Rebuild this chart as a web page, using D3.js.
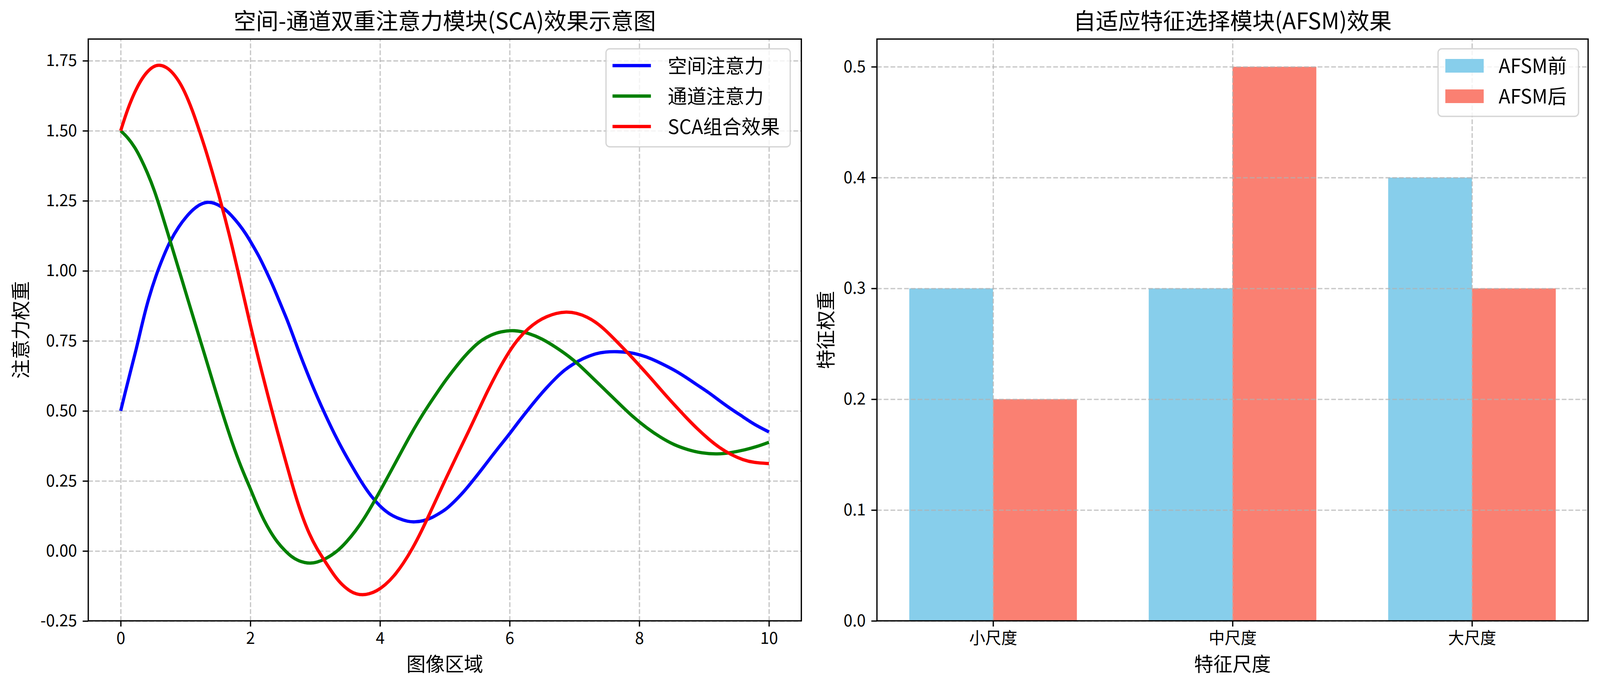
<!DOCTYPE html>
<html>
<head>
<meta charset="utf-8">
<script src="https://cdn.jsdelivr.net/npm/d3@7"></script>
<style>
  html, body { margin: 0; padding: 0; background: #fff; overflow: hidden; }
  #chart { width: 100vw; height: 100vh; }
  svg { display: block; width: 100%; height: 100%; }
  text { font-family: "Noto Sans CJK SC", "Noto Sans", sans-serif; fill: #000; }
</style>
</head>
<body>
<div id="chart"></div>
<script>
// ---- data ----
const spatialAttention = [
  [0, 0.5], [0.07, 0.566], [0.15, 0.64], [0.24, 0.72], [0.3, 0.78], [0.41, 0.887],
  [0.55, 0.988], [0.66, 1.052], [0.76, 1.106], [0.9, 1.16], [1.01, 1.193], [1.12, 1.22],
  [1.22, 1.237], [1.31, 1.245], [1.4, 1.245], [1.5, 1.237], [1.61, 1.22], [1.71, 1.198],
  [1.82, 1.168], [1.93, 1.133], [2.03, 1.094], [2.14, 1.05], [2.24, 1.001], [2.35, 0.947],
  [2.45, 0.89], [2.56, 0.83], [2.63, 0.787], [2.74, 0.717], [2.88, 0.634], [3.02, 0.556],
  [3.16, 0.484], [3.3, 0.416], [3.44, 0.354], [3.58, 0.298], [3.72, 0.243], [3.86, 0.196],
  [4.0, 0.159], [4.14, 0.132], [4.29, 0.115], [4.43, 0.105], [4.53, 0.103], [4.67, 0.107],
  [4.81, 0.119], [4.95, 0.139], [5.02, 0.149], [5.16, 0.179], [5.3, 0.213], [5.44, 0.253],
  [5.58, 0.294], [5.72, 0.337], [5.86, 0.378], [6.0, 0.418], [6.14, 0.462], [6.29, 0.506],
  [6.43, 0.546], [6.57, 0.583], [6.71, 0.617], [6.85, 0.647], [6.99, 0.669], [7.13, 0.687],
  [7.31, 0.704], [7.48, 0.711], [7.66, 0.712], [7.84, 0.709], [8.01, 0.701], [8.19, 0.686],
  [8.36, 0.667], [8.54, 0.646], [8.72, 0.62], [8.89, 0.593], [9.07, 0.566], [9.24, 0.536],
  [9.42, 0.506], [9.6, 0.479], [9.77, 0.452], [10, 0.425],
];

const channelAttention = [
  [0, 1.5], [0.11, 1.476], [0.22, 1.441], [0.31, 1.402], [0.41, 1.352], [0.52, 1.288],
  [0.62, 1.215], [0.73, 1.132], [0.84, 1.048], [0.94, 0.972], [1.05, 0.887], [1.18, 0.788],
  [1.29, 0.705], [1.43, 0.597], [1.57, 0.492], [1.72, 0.385], [1.86, 0.297], [2.0, 0.223],
  [2.1, 0.165], [2.21, 0.109], [2.31, 0.068], [2.42, 0.03], [2.53, 0.002], [2.63, -0.02],
  [2.74, -0.035], [2.84, -0.042], [2.93, -0.044], [3.02, -0.041], [3.16, -0.029], [3.34, -0.002],
  [3.48, 0.031], [3.62, 0.07], [3.76, 0.117], [3.9, 0.172], [4.04, 0.23], [4.18, 0.29],
  [4.32, 0.35], [4.46, 0.41], [4.6, 0.466], [4.74, 0.517], [4.88, 0.565], [5.02, 0.612],
  [5.16, 0.654], [5.3, 0.694], [5.44, 0.728], [5.58, 0.755], [5.72, 0.772], [5.86, 0.783],
  [6.07, 0.789], [6.29, 0.778], [6.5, 0.758], [6.71, 0.728], [6.92, 0.694], [7.06, 0.667],
  [7.27, 0.62], [7.48, 0.573], [7.69, 0.526], [7.9, 0.479], [8.12, 0.438], [8.33, 0.405],
  [8.54, 0.378], [8.75, 0.361], [8.96, 0.349], [9.21, 0.345], [9.42, 0.351], [9.63, 0.361],
  [9.81, 0.372], [10, 0.388],
];

const scaCombined = [
  [0, 1.5], [0.11, 1.58], [0.22, 1.64], [0.31, 1.68], [0.41, 1.712], [0.51, 1.731],
  [0.6, 1.736], [0.71, 1.727], [0.81, 1.706], [0.92, 1.67], [1.01, 1.628], [1.11, 1.571],
  [1.21, 1.503], [1.31, 1.433], [1.41, 1.355], [1.51, 1.275], [1.61, 1.188], [1.71, 1.097],
  [1.8, 1.008], [1.9, 0.907], [2.0, 0.806], [2.1, 0.71], [2.19, 0.628], [2.31, 0.52],
  [2.42, 0.425], [2.53, 0.333], [2.63, 0.25], [2.72, 0.18], [2.81, 0.118], [2.91, 0.06],
  [3.02, 0.01], [3.16, -0.04], [3.3, -0.09], [3.41, -0.12], [3.55, -0.146], [3.64, -0.154],
  [3.73, -0.157], [3.83, -0.154], [3.95, -0.143], [4.08, -0.122], [4.22, -0.089], [4.36, -0.045],
  [4.5, 0.008], [4.64, 0.07], [4.78, 0.14], [4.92, 0.21], [5.02, 0.26], [5.19, 0.343],
  [5.37, 0.428], [5.51, 0.497], [5.65, 0.567], [5.83, 0.648], [6.0, 0.715], [6.14, 0.76],
  [6.29, 0.795], [6.43, 0.82], [6.57, 0.837], [6.72, 0.849], [6.87, 0.854], [7.03, 0.85],
  [7.2, 0.835], [7.34, 0.815], [7.48, 0.788], [7.66, 0.746], [7.84, 0.703], [8.01, 0.66],
  [8.19, 0.614], [8.36, 0.568], [8.54, 0.522], [8.72, 0.477], [8.89, 0.437], [9.07, 0.399],
  [9.24, 0.368], [9.42, 0.343], [9.6, 0.325], [9.77, 0.315], [10, 0.312],
];

const lineSeries = [
  { name: '空间注意力', color: 'blue', points: spatialAttention },
  { name: '通道注意力', color: 'green', points: channelAttention },
  { name: 'SCA组合效果', color: 'red', points: scaCombined },
];

const lineXTicks = [0, 2, 4, 6, 8, 10];
const lineYTicks = [-0.25, 0, 0.25, 0.5, 0.75, 1.0, 1.25, 1.5, 1.75];

const scaleCategories = ['小尺度', '中尺度', '大尺度'];
const beforeAfsm = [0.3, 0.3, 0.4];
const afterAfsm = [0.2, 0.5, 0.3];
const barYTicks = [0, 0.1, 0.2, 0.3, 0.4, 0.5];
const barSeries = [
  { name: 'AFSM前', color: 'skyblue', values: beforeAfsm, offset: -1 },
  { name: 'AFSM后', color: 'salmon', values: afterAfsm, offset: 0 },
];

// ---- layout (300 dpi: 1pt = 4.1667px) ----
const width = 4169;
const height = 1762;
const PT = 300 / 72;
const tickLen = 3.5 * PT;
const tickPad = 3.5 * PT;
const thin = 0.8 * PT;
const tickFont = 10 * PT;
const labelFont = 12 * PT;
const titleFont = 14 * PT;
const barWidth = 0.35;

const leftArea = { left: 230, right: 2088, top: 100, bottom: 1590 };
const rightArea = { left: 2285, right: 4138, top: 100, bottom: 1590 };

// the reference prints a plain hyphen for negatives
const fixed2 = (d) => d3.format('.2f')(d).replace('−', '-');

// the drawing fills whatever viewport the page gets
const svg = d3
  .select('#chart')
  .append('svg')
  .attr('viewBox', `0 0 ${width} ${height}`)
  .attr('preserveAspectRatio', 'none');

svg.append('rect').attr('width', width).attr('height', height).attr('fill', '#fff');

function drawGrid(g, area, xScale, yScale, xTicks, yTicks) {
  const grid = g.append('g').attr('class', 'grid');
  grid
    .append('g')
    .attr('transform', `translate(0, ${area.bottom})`)
    .call(d3.axisBottom(xScale).tickValues(xTicks).tickFormat('').tickSize(-(area.bottom - area.top)));
  grid
    .append('g')
    .attr('transform', `translate(${area.left}, 0)`)
    .call(d3.axisLeft(yScale).tickValues(yTicks).tickFormat('').tickSize(-(area.right - area.left)));
  grid.selectAll('.domain').remove();
  grid
    .selectAll('line')
    .attr('stroke', '#b0b0b0')
    .attr('stroke-opacity', 0.7)
    .attr('stroke-width', thin)
    .attr('stroke-dasharray', `${3.7 * thin} ${1.6 * thin}`);
}

function drawAxes(g, area, xScale, yScale, xTicks, xFormat, yTicks, yFormat) {
  const xAxis = g
    .append('g')
    .attr('transform', `translate(0, ${area.bottom})`)
    .call(
      d3.axisBottom(xScale).tickValues(xTicks).tickFormat(xFormat)
        .tickSizeInner(tickLen).tickSizeOuter(0).tickPadding(tickPad),
    );
  const yAxis = g
    .append('g')
    .attr('transform', `translate(${area.left}, 0)`)
    .call(
      d3.axisLeft(yScale).tickValues(yTicks).tickFormat(yFormat)
        .tickSizeInner(tickLen).tickSizeOuter(0).tickPadding(tickPad),
    );

  for (const axis of [xAxis, yAxis]) {
    axis.select('.domain').remove();
    axis.selectAll('line').attr('stroke', '#000').attr('stroke-width', thin);
    axis
      .selectAll('text')
      .attr('font-size', tickFont)
      .attr('font-family', '"Noto Sans CJK SC", "Noto Sans", sans-serif')
      .attr('fill', '#000');
  }

  g.append('rect')
    .attr('x', area.left)
    .attr('y', area.top)
    .attr('width', area.right - area.left)
    .attr('height', area.bottom - area.top)
    .attr('fill', 'none')
    .attr('stroke', '#000')
    .attr('stroke-width', thin);
}

function drawLabels(g, area, title, xLabel, yLabel, yLabelX) {
  const cx = (area.left + area.right) / 2;
  const cy = (area.top + area.bottom) / 2;

  g.append('text')
    .attr('x', cx)
    .attr('y', area.top - 6 * PT)
    .attr('text-anchor', 'middle')
    .attr('font-size', titleFont)
    .text(title);

  g.append('text')
    .attr('x', cx)
    .attr('y', 1719)
    .attr('text-anchor', 'middle')
    .attr('font-size', labelFont)
    .text(xLabel);

  g.append('text')
    .attr('transform', `translate(${yLabelX}, ${cy}) rotate(-90)`)
    .attr('text-anchor', 'middle')
    .attr('font-size', labelFont)
    .text(yLabel);
}

function drawLegendFrame(g, box) {
  g.append('rect')
    .attr('x', box.x)
    .attr('y', box.y)
    .attr('width', box.w)
    .attr('height', box.h)
    .attr('rx', 0.2 * labelFont)
    .attr('fill', '#fff')
    .attr('fill-opacity', 0.8)
    .attr('stroke', '#cccccc')
    .attr('stroke-opacity', 0.8)
    .attr('stroke-width', thin);
}

// ---- left: line chart ----
const left = svg.append('g').attr('class', 'line-chart');

const xLine = d3.scaleLinear().domain([-0.5, 10.5]).range([leftArea.left, leftArea.right]);
const yLine = d3.scaleLinear().domain([-0.2494, 1.8274]).range([leftArea.bottom, leftArea.top]);

drawGrid(left, leftArea, xLine, yLine, lineXTicks, lineYTicks);

// points were read by eye, so a basis curve evens out the reading noise
const line = d3
  .line()
  .x((d) => xLine(d[0]))
  .y((d) => yLine(d[1]))
  .curve(d3.curveBasis);

left
  .append('g')
  .attr('class', 'lines')
  .selectAll('path')
  .data(lineSeries)
  .join('path')
  .attr('d', (d) => line(d.points))
  .attr('fill', 'none')
  .attr('stroke', (d) => d.color)
  .attr('stroke-width', 2 * PT)
  .attr('stroke-linejoin', 'round');

drawAxes(left, leftArea, xLine, yLine, lineXTicks, d3.format('d'), lineYTicks, fixed2);
drawLabels(left, leftArea, '空间-通道双重注意力模块(SCA)效果示意图', '图像区域', '注意力权重', 72);

const leftLegend = left.append('g').attr('class', 'legend');
drawLegendFrame(leftLegend, { x: 1579, y: 125, w: 480, h: 251 });
const leftRows = leftLegend
  .selectAll('g.row')
  .data(lineSeries)
  .join('g')
  .attr('class', 'row')
  .attr('transform', (d, i) => `translate(0, ${168 + i * 78})`);
leftRows
  .append('line')
  .attr('x1', 1596)
  .attr('x2', 1596 + 2 * labelFont)
  .attr('stroke', (d) => d.color)
  .attr('stroke-width', 2 * PT);
leftRows
  .append('text')
  .attr('x', 1740)
  .attr('dy', '0.37em')
  .attr('font-size', labelFont)
  .text((d) => d.name);

// ---- right: grouped bars ----
const right = svg.append('g').attr('class', 'bar-chart');

const xBar = d3.scaleLinear().domain([-0.485, 2.485]).range([rightArea.left, rightArea.right]);
const yBar = d3.scaleLinear().domain([0, 0.525]).range([rightArea.bottom, rightArea.top]);

const barGroups = right
  .append('g')
  .attr('class', 'bars')
  .selectAll('g')
  .data(barSeries)
  .join('g')
  .attr('fill', (d) => d.color);

barGroups
  .selectAll('rect')
  .data((s) => s.values.map((v, i) => ({ i, v, offset: s.offset })))
  .join('rect')
  .attr('x', (d) => xBar(d.i + d.offset * barWidth))
  .attr('width', (d) => xBar(d.i + (d.offset + 1) * barWidth) - xBar(d.i + d.offset * barWidth))
  .attr('y', (d) => yBar(d.v))
  .attr('height', (d) => yBar(0) - yBar(d.v));

drawGrid(right, rightArea, xBar, yBar, d3.range(scaleCategories.length), barYTicks);
drawAxes(
  right,
  rightArea,
  xBar,
  yBar,
  d3.range(scaleCategories.length),
  (i) => scaleCategories[i],
  barYTicks,
  d3.format('.1f'),
);
drawLabels(right, rightArea, '自适应特征选择模块(AFSM)效果', '特征尺度', '特征权重', 2170);

const rightLegend = right.append('g').attr('class', 'legend');
drawLegendFrame(rightLegend, { x: 3747, y: 125, w: 366, h: 173 });
const rightRows = rightLegend
  .selectAll('g.row')
  .data(barSeries)
  .join('g')
  .attr('class', 'row')
  .attr('transform', (d, i) => `translate(0, ${168.5 + i * 78})`);
rightRows
  .append('rect')
  .attr('x', 3766)
  .attr('y', -0.35 * labelFont)
  .attr('width', 2 * labelFont)
  .attr('height', 0.7 * labelFont)
  .attr('fill', (d) => d.color);
rightRows
  .append('text')
  .attr('x', 3905)
  .attr('dy', '0.37em')
  .attr('font-size', labelFont)
  .text((d) => d.name);
</script>
</body>
</html>
